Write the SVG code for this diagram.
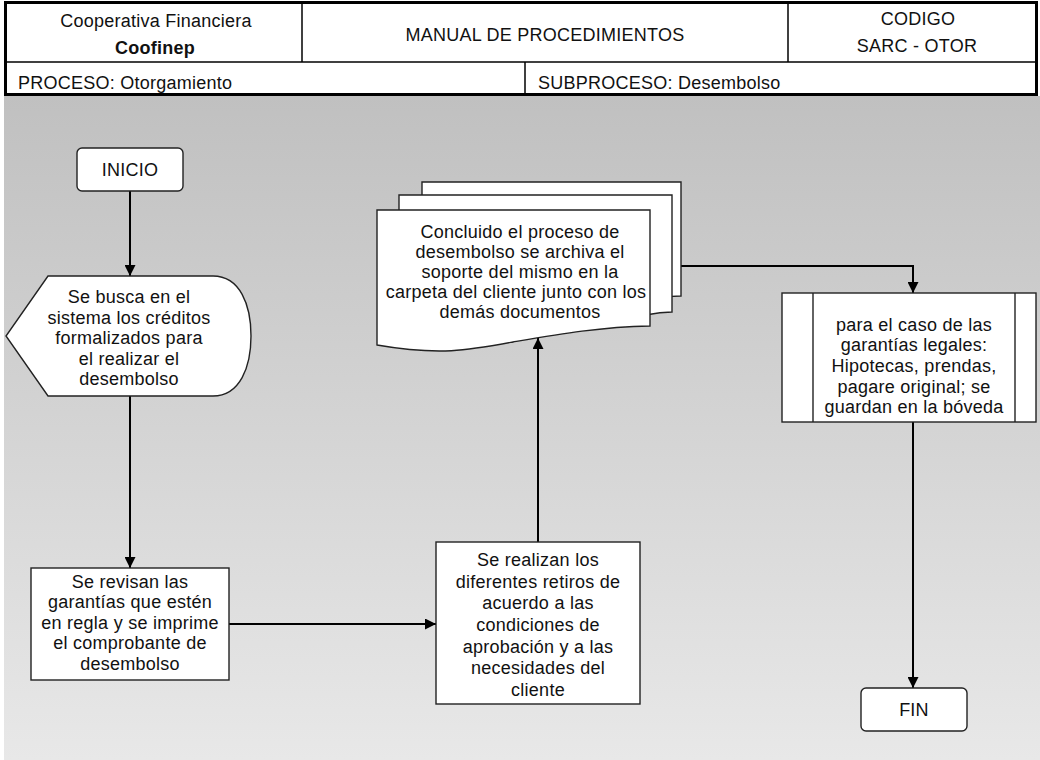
<svg xmlns="http://www.w3.org/2000/svg" width="1040" height="760" viewBox="0 0 1040 760">
<defs>
<linearGradient id="bg" x1="0" y1="0" x2="0" y2="1">
<stop offset="0" stop-color="#c0c0c0"/>
<stop offset="1" stop-color="#e8e8e8"/>
</linearGradient>
<marker id="arr" viewBox="0 0 10 10" refX="10" refY="5" markerWidth="11" markerHeight="11" markerUnits="userSpaceOnUse" orient="auto">
<path d="M0,0 L10,5 L0,10 Z" fill="#000"/>
</marker>
<style>
text{font-family:"Liberation Sans",Arial,sans-serif;font-size:18px;letter-spacing:0.25px;fill:#111}
.c{text-anchor:middle}
.b{font-weight:bold}
.shape{fill:#fff;stroke:#222;stroke-width:1.4}
.hl{fill:none;stroke:#000;stroke-width:1.5}
.conn{fill:none;stroke:#000;stroke-width:2}
</style>
</defs>
<rect x="0" y="0" width="1040" height="760" fill="#fff"/>
<rect x="4" y="96" width="1036" height="664" fill="url(#bg)"/>

<g id="header">
<rect x="5.5" y="2.5" width="1031" height="92" fill="#fff" stroke="#000" stroke-width="3"/>
<line class="hl" x1="5" y1="62" x2="1036" y2="62"/>
<line class="hl" x1="302" y1="3" x2="302" y2="62"/>
<line class="hl" x1="788" y1="3" x2="788" y2="62"/>
<line class="hl" x1="525" y1="62" x2="525" y2="94"/>
<text class="c" x="156" y="27">Cooperativa Financiera</text>
<text class="c b" x="155" y="54">Coofinep</text>
<text class="c" x="545" y="41">MANUAL DE PROCEDIMIENTOS</text>
<text class="c" x="918" y="25">CODIGO</text>
<text class="c" x="917" y="52">SARC - OTOR</text>
<text x="18" y="89">PROCESO: Otorgamiento</text>
<text x="538" y="89">SUBPROCESO: Desembolso</text>
</g>

<g id="connectors">
<line class="conn" x1="130" y1="191" x2="130" y2="276" marker-end="url(#arr)"/>
<line class="conn" x1="130" y1="396" x2="130" y2="568" marker-end="url(#arr)"/>
<line class="conn" x1="229" y1="624" x2="436" y2="624" marker-end="url(#arr)"/>
<line class="conn" x1="538" y1="542" x2="538" y2="338" marker-end="url(#arr)"/>
<polyline class="conn" points="681,266 913,266 913,293" marker-end="url(#arr)"/>
<line class="conn" x1="913" y1="422" x2="913" y2="688" marker-end="url(#arr)"/>
</g>

<g id="inicio">
<rect class="shape" x="77" y="148" width="106" height="43" rx="5"/>
<text class="c" x="130" y="176">INICIO</text>
</g>

<g id="buscar">
<path class="shape" d="M48,276 H213 C240,276 251,305 251,336 C251,367 240,396 213,396 H48 L6,336 Z"/>
<text class="c" x="129" y="303">Se busca en el</text>
<text class="c" x="129" y="324">sistema los créditos</text>
<text class="c" x="129" y="344">formalizados para</text>
<text class="c" x="129" y="365">el realizar el</text>
<text class="c" x="129" y="385">desembolso</text>
</g>

<g id="revisar">
<rect class="shape" x="31" y="568" width="198" height="112"/>
<text class="c" x="130" y="588">Se revisan las</text>
<text class="c" x="130" y="608">garantías que estén</text>
<text class="c" x="130" y="629">en regla y se imprime</text>
<text class="c" x="130" y="649">el comprobante de</text>
<text class="c" x="130" y="670">desembolso</text>
</g>

<g id="retiros">
<rect class="shape" x="436" y="542" width="204" height="162"/>
<text class="c" x="538" y="566">Se realizan los</text>
<text class="c" x="538" y="588">diferentes retiros de</text>
<text class="c" x="538" y="609">acuerdo a las</text>
<text class="c" x="538" y="631">condiciones de</text>
<text class="c" x="538" y="653">aprobación y a las</text>
<text class="c" x="538" y="674">necesidades del</text>
<text class="c" x="538" y="696">cliente</text>
</g>

<g id="archivo">
<path class="shape" d="M422,182 H681 V296 C660,296 640,300 620,306 L422,306 Z"/>
<path class="shape" d="M399,195 H672 V312 C655,312 640,316 620,322 L399,322 Z"/>
<path class="shape" d="M377,210 H650 V326 C600,327 560,334 513,342 C470,350 440,356 377,345 Z"/>
<text class="c" x="520" y="238">Concluido el proceso de</text>
<text class="c" x="520" y="258">desembolso se archiva el</text>
<text class="c" x="520" y="278">soporte del mismo en la</text>
<text class="c" x="516" y="298">carpeta del cliente junto con los</text>
<text class="c" x="520" y="318">demás documentos</text>
</g>

<g id="garantias">
<rect class="shape" x="782" y="293" width="254" height="129"/>
<line class="shape" x1="813" y1="293" x2="813" y2="422"/>
<line class="shape" x1="1015" y1="293" x2="1015" y2="422"/>
<text class="c" x="914" y="331">para el caso de las</text>
<text class="c" x="914" y="351">garantías legales:</text>
<text class="c" x="914" y="372">Hipotecas, prendas,</text>
<text class="c" x="914" y="393">pagare original; se</text>
<text class="c" x="914" y="413">guardan en la bóveda</text>
</g>

<g id="fin">
<rect class="shape" x="861" y="688" width="106" height="43" rx="5"/>
<text class="c" x="914" y="716">FIN</text>
</g>
</svg>
